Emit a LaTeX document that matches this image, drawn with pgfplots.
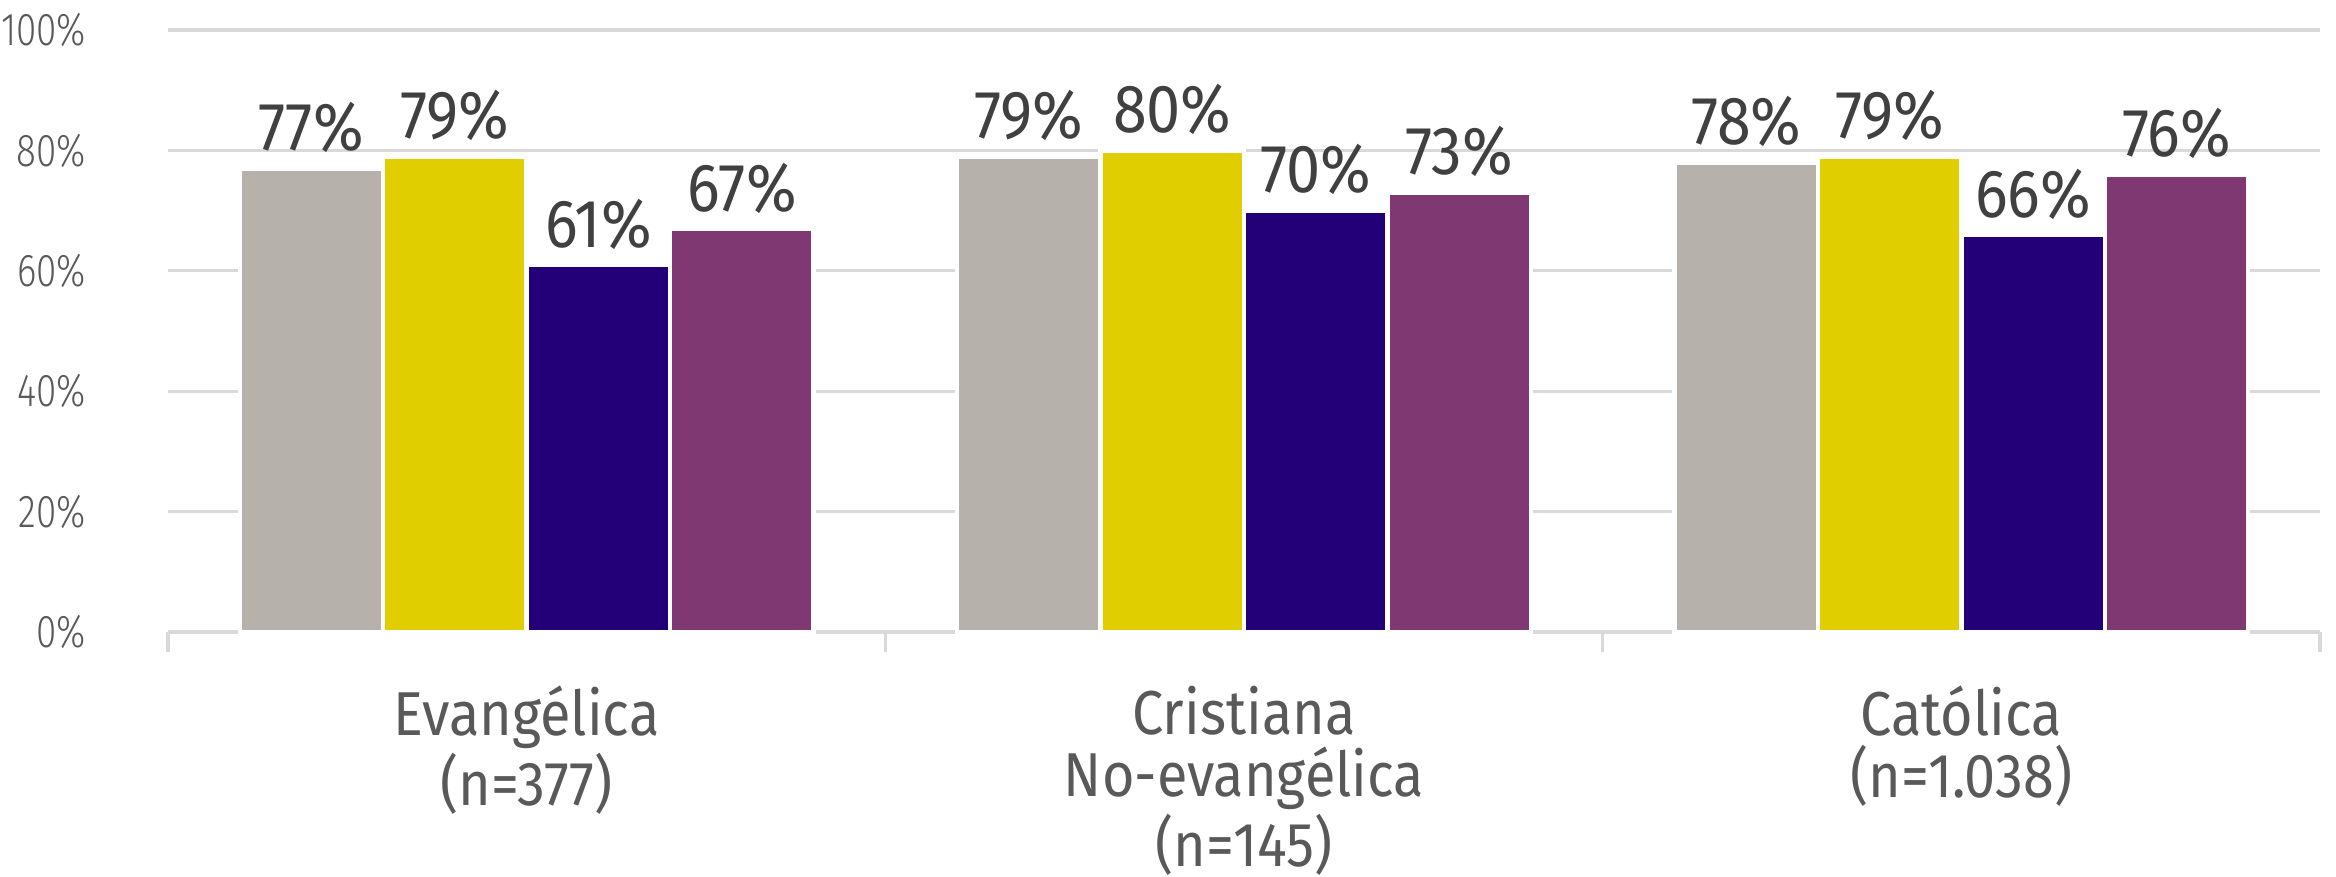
\documentclass[border=0pt]{standalone}
\usepackage{fontspec}
\setmainfont{Fira Sans}[FakeStretch=0.9]
\newfontfamily\tickfont{Fira Sans Light}[FakeStretch=0.8]
\usepackage{pgfplots}
\pgfplotsset{compat=1.18}
\definecolor{cgray}{HTML}{B6B1AA}
\definecolor{cyellow}{HTML}{E0CE00}
\definecolor{cnavy}{HTML}{230078}
\definecolor{cpurple}{HTML}{803872}
\definecolor{gridc}{HTML}{D9D9D9}
\definecolor{tickc}{HTML}{595959}
\definecolor{labc}{HTML}{404040}
\begin{document}
\begin{tikzpicture}
\begin{axis}[
  at={(0,0)}, anchor=south west,
  scale only axis, width=538pt, height=150.5pt,
  /pgf/number format/assume math mode=true,
  xmin=-0.5, xmax=2.5, ymin=0, ymax=100,
  axis x line*=bottom, axis y line*=left,
  y axis line style={draw=none},
  x axis line style={draw=gridc, line width=0.8pt},
  ytick={0,20,...,100},
  yticklabel={\pgfmathprintnumber{\tick}\%},
  ymajorgrids, grid style={draw=gridc, line width=0.8pt},
  major tick length=0pt,
  minor tick length=5pt,
  tick align=outside,
  xtick={0,1,2},
  minor xtick={-0.5,0.5,1.5,2.5},
  minor tick style={draw=gridc, line width=0.8pt},
  xticklabels={{Evangélica\\(n=377)},{Cristiana\\No-evangélica\\(n=145)},{Católica\\(n=1.038)}},
  xticklabel style={align=center, font=\fontsize{15.5}{15.5}\selectfont, text=tickc, yshift=-10pt},
  yticklabel style={font=\tickfont\fontsize{11.5}{13}\selectfont, text=tickc, anchor=east, xshift=-17pt},
  ybar, bar width=0.2,
  nodes near coords={\pgfmathprintnumber{\pgfplotspointmeta}\%},
  every node near coord/.append style={font=\fontsize{17}{18}\selectfont, text=labc},
  clip=false,
]
\addplot[fill=cgray, draw=white, line width=1.1pt, bar shift=-0.3] coordinates {(0,77) (1,79) (2,78)};
\addplot[fill=cyellow, draw=white, line width=1.1pt, bar shift=-0.1] coordinates {(0,79) (1,80) (2,79)};
\addplot[fill=cnavy, draw=white, line width=1.1pt, bar shift=0.1] coordinates {(0,61) (1,70) (2,66)};
\addplot[fill=cpurple, draw=white, line width=1.1pt, bar shift=0.3] coordinates {(0,67) (1,73) (2,76)};
\end{axis}
\pgfresetboundingbox
\useasboundingbox (-42pt,-61.25pt) rectangle (542pt,158pt);
\end{tikzpicture}
\end{document}
